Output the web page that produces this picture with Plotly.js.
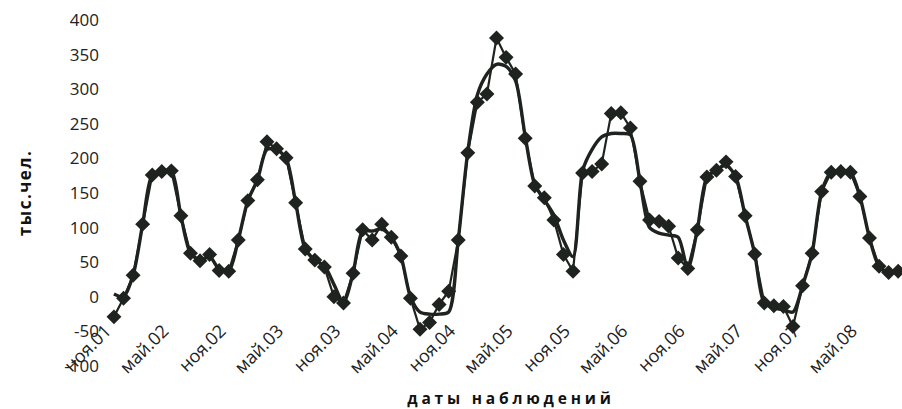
<!DOCTYPE html>
<html>
<head>
<meta charset="utf-8">
<script src="https://cdn.plot.ly/plotly-3.0.1.min.js"></script>
<style>
  html, body { margin: 0; padding: 0; background: #fff; }
  #chart { width: 902px; height: 409px; }
  .xtitle { letter-spacing: 3.8px; transform: translateX(10px); }
  .ytitle { letter-spacing: 1.5px; }
</style>
</head>
<body>
<div id="chart"></div>
<script>
// Monthly observation dates (categories), Nov 2001 – Sep 2008
const months = [
  "ноя.01","дек.01",
  "янв.02","фев.02","мар.02","апр.02","май.02","июн.02","июл.02","авг.02","сен.02","окт.02","ноя.02","дек.02",
  "янв.03","фев.03","мар.03","апр.03","май.03","июн.03","июл.03","авг.03","сен.03","окт.03","ноя.03","дек.03",
  "янв.04","фев.04","мар.04","апр.04","май.04","июн.04","июл.04","авг.04","сен.04","окт.04","ноя.04","дек.04",
  "янв.05","фев.05","мар.05","апр.05","май.05","июн.05","июл.05","авг.05","сен.05","окт.05","ноя.05","дек.05",
  "янв.06","фев.06","мар.06","апр.06","май.06","июн.06","июл.06","авг.06","сен.06","окт.06","ноя.06","дек.06",
  "янв.07","фев.07","мар.07","апр.07","май.07","июн.07","июл.07","авг.07","сен.07","окт.07","ноя.07","дек.07",
  "янв.08","фев.08","мар.08","апр.08","май.08","июн.08","июл.08","авг.08","сен.08"
];

// Observed values, thousand people (series with diamond markers)
const observed = [
  -29, -2,
  31, 105, 176, 181, 182, 117, 63, 52, 61, 38, 37, 82,
  139, 169, 224, 214, 201, 136, 69, 53, 43, 0, -9, 34,
  97, 82, 105, 86, 59, -2, -47, -37, -11, 8, 82, 208,
  281, 293, 374, 346, 322, 229, 160, 143, 111, 61, 37, 179,
  181, 192, 265, 266, 244, 167, 111, 109, 102, 56, 41, 97,
  173, 183, 195, 174, 117, 62, -9, -13, -14, -43, 16, 63,
  152, 180, 181, 180, 145, 85, 44, 35, 37
];

// Smoothed / model series (line without markers)
const smoothed = [
  4, 0,
  31, 105, 176, 181, 182, 117, 63, 53, 58, 40, 37, 82,
  139, 169, 213, 213, 200, 136, 69, 53, 45, 18, -8, 34,
  95, 95, 98, 86, 59, 0, -22, -25, -25, -22, 82, 210,
  292, 322, 336, 333, 312, 232, 162, 140, 118, 82, 58, 182,
  213, 231, 236, 236, 234, 167, 100, 92, 89, 86, 41, 97,
  173, 183, 190, 174, 117, 62, -9, -16, -19, -22, 16, 63,
  152, 180, 181, 180, 145, 85, 44, 35, 37
];

// Tick labels shown on the date axis (every 6 months)
const tickLabels = ["ноя.01","май.02","ноя.02","май.03","ноя.03","май.04","ноя.04",
                    "май.05","ноя.05","май.06","ноя.06","май.07","ноя.07","май.08"];

// Value-axis ticks and their labels
const yTickVals = [-100, -50, 0, 50, 100, 150, 200, 250, 300, 350, 400];
const yTickLabels = ["-100", "-50", "0", "50", "100", "150", "200", "250", "300", "350", "400"];

const ink = "#1e231f";

const traces = [
  {
    x: months, y: smoothed, type: "scatter", mode: "lines",
    line: { color: ink, width: 3.4, shape: "spline", smoothing: 0.8 },
    hoverinfo: "skip", showlegend: false
  },
  {
    x: months, y: observed, type: "scatter", mode: "lines+markers",
    line: { color: ink, width: 2.2 },
    marker: { symbol: "diamond", size: 11.5, color: ink },
    showlegend: false
  }
];

const layout = {
  width: 902, height: 409,
  margin: { l: 100, r: 0, t: 20, b: 43, pad: 0 },
  paper_bgcolor: "#fff", plot_bgcolor: "#fff",
  font: { family: "Open Sans, sans-serif", color: "#222" },
  showlegend: false,
  xaxis: {
    type: "category",
    range: [-1.46, 82.4],
    tickmode: "array",
    tickvals: tickLabels,
    ticktext: tickLabels,
    tickangle: -45,
    tickfont: { size: 18, color: "#222" },
    ticklabelshift: -8,
    showgrid: false, zeroline: false, showline: false, ticks: "",
    anchor: "free", position: 0.145,
    title: { text: "даты наблюдений", font: { size: 15.5, color: "#111", family: "Open Sans, sans-serif", weight: "bold" }, standoff: 19 }
  },
  yaxis: {
    range: [-100, 400],
    tickmode: "array",
    tickvals: yTickVals,
    ticktext: yTickLabels,
    tickfont: { size: 17, color: "#222" },
    showgrid: false, zeroline: false, showline: false, ticks: "",
    title: { text: "тыс.чел.", font: { size: 17, color: "#111", family: "Open Sans, sans-serif", weight: "bold" }, standoff: 28 }
  }
};

Plotly.newPlot("chart", traces, layout, { displayModeBar: false, staticPlot: true });
</script>
</body>
</html>
